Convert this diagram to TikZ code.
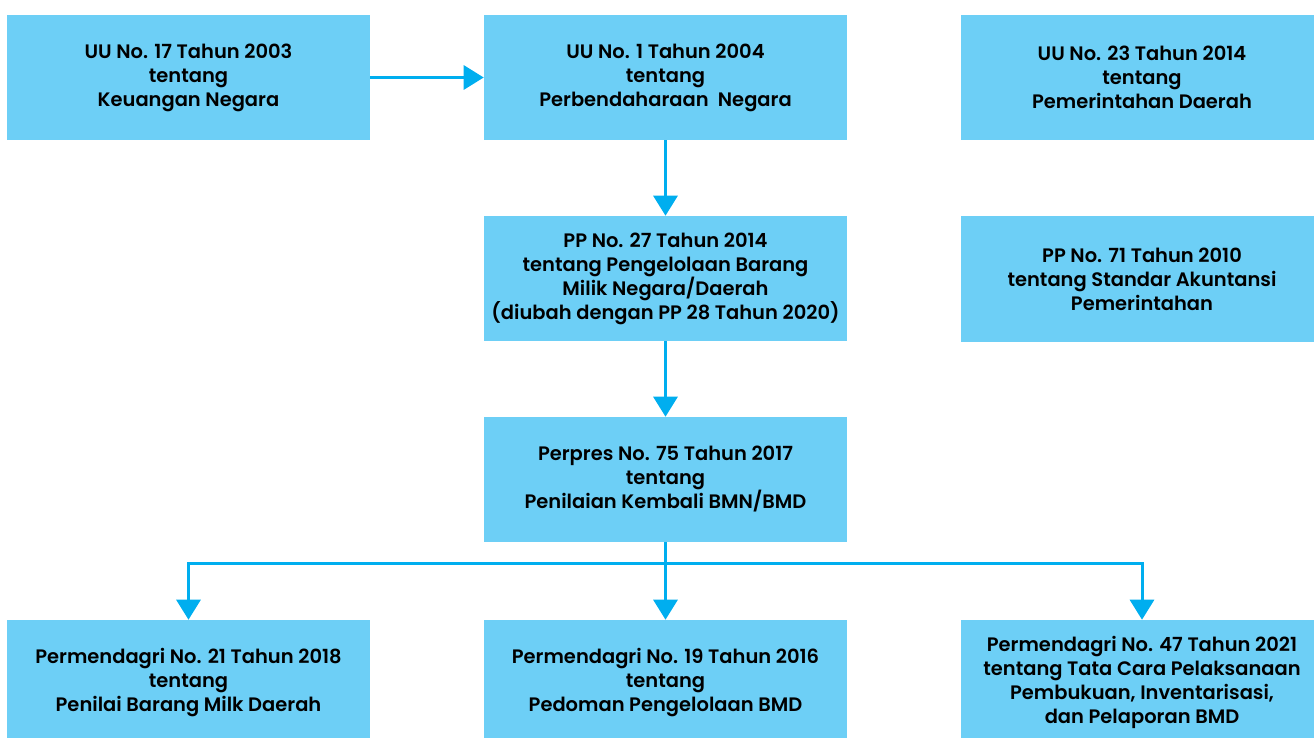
\documentclass[tikz,border=0pt]{standalone}
\usepackage{fontspec}
\setmainfont{Poppins SemiBold}
\usetikzlibrary{arrows.meta}
\definecolor{boxblue}{HTML}{6DCFF6}
\definecolor{arrowblue}{HTML}{00AEEF}
\tikzset{
  lawbox/.style={fill=boxblue, draw=none, minimum width=272.25pt, minimum height=93.75pt,
    align=center, inner sep=0pt, font=\fontsize{14.6}{18}\selectfont, text=black},
  link/.style={draw=arrowblue, line width=2.25pt, -{Triangle[length=15pt,width=18pt]}},
  branch/.style={draw=arrowblue, line width=2.25pt}
}
\begin{document}
\begin{tikzpicture}[x=0.75pt,y=-0.75pt]
\useasboundingbox (0,0) rectangle (1314,738);
\begin{scope}
\clip (0,0) rectangle (1314,738);
\node[lawbox] (uu17) at (188.5,77.5) {UU No. 17 Tahun 2003\\tentang\\Keuangan Negara};
\node[lawbox] (uu1) at (665.5,77.5) {UU No. 1 Tahun 2004\\tentang\\Perbendaharaan~~Negara};
\node[lawbox] (uu23) at (1142,77.5) {UU No. 23 Tahun 2014\\tentang\\Pemerintahan Daerah};
\node[lawbox] (pp27) at (665.5,278.5) {PP No. 27 Tahun 2014\\tentang Pengelolaan Barang\\Milik Negara/Daerah\\(diubah dengan PP 28 Tahun 2020)};
\node[lawbox] (pp71) at (1142,279) {PP No. 71 Tahun 2010\\tentang Standar Akuntansi\\Pemerintahan};
\node[lawbox] (perpres) at (665.5,479.5) {Perpres No. 75 Tahun 2017\\tentang\\Penilaian Kembali BMN/BMD};
\node[lawbox] (p21) at (188.5,682.5) {Permendagri No. 21 Tahun 2018\\tentang\\Penilai Barang Milk Daerah};
\node[lawbox] (p19) at (665.5,682.5) {Permendagri No. 19 Tahun 2016\\tentang\\Pedoman Pengelolaan BMD};
\node[lawbox] (p47) at (1142,682.5) {Permendagri No. 47 Tahun 2021\\tentang Tata Cara Pelaksanaan\\Pembukuan, Inventarisasi,\\dan Pelaporan BMD};
\end{scope}
\coordinate (junction) at (665.5,563);
\draw[link] (uu17.east) -- (uu1.west);
\draw[link] (uu1.south) -- (pp27.north);
\draw[link] (pp27.south) -- (perpres.north);
\draw[branch] (perpres.south) -- (junction);
\draw[link] (junction) -- (p19.north);
\draw[link] (junction) -| (p21.north);
\draw[link] (junction) -| (p47.north);
\end{tikzpicture}
\end{document}
